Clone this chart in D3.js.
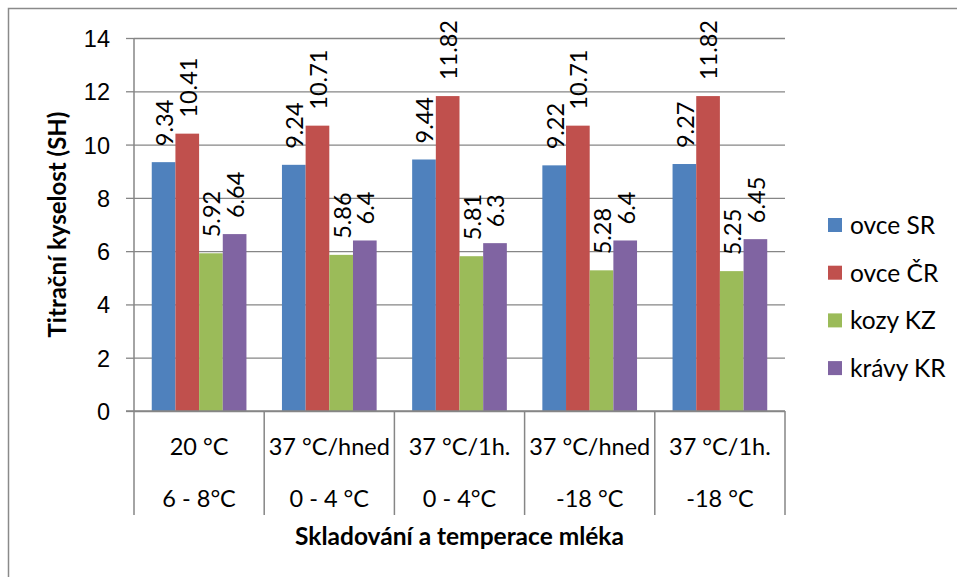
<!DOCTYPE html>
<html>
<head>
<meta charset="utf-8">
<script src="https://cdn.jsdelivr.net/npm/d3@7"></script>
<style>
  html, body { margin: 0; padding: 0; background: #fff; }
  svg { display: block; font-family: Lato, "Open Sans", sans-serif; }
</style>
</head>
<body>
<svg id="chart" width="957" height="577"></svg>
<script>
// Storage conditions (two-level category axis)
const categoriesTop = ["20 °C", "37 °C/hned", "37 °C/1h.", "37 °C/hned", "37 °C/1h."];
const categoriesBottom = ["6 - 8°C", "0 - 4 °C", "0 - 4°C", "-18 °C", "-18 °C"];

// Series
const seriesNames = ["ovce SR", "ovce ČR", "kozy KZ", "krávy KR"];
const ovceSR = [9.34, 9.24, 9.44, 9.22, 9.27];
const ovceCR = [10.41, 10.71, 11.82, 10.71, 11.82];
const kozyKZ = [5.92, 5.86, 5.81, 5.28, 5.25];
const kravyKR = [6.64, 6.4, 6.3, 6.4, 6.45];
const seriesColors = ["#4F81BD", "#C0504D", "#9BBB59", "#8064A2"];

const yTicks = [0, 2, 4, 6, 8, 10, 12, 14];
const yTitle = "Titrační kyselost (SH)";
const xTitle = "Skladování a temperace mléka";

const seriesValues = [ovceSR, ovceCR, kozyKZ, kravyKR];
const groups = categoriesTop.map((c, i) => ({
  index: i,
  top: c,
  bottom: categoriesBottom[i],
  values: seriesNames.map((s, j) => ({ series: s, j, value: seriesValues[j][i] }))
}));

const svg = d3.select("#chart");
const gridColor = "#868686";

const plot = { left: 134, right: 785, top: 38, bottom: 411 };
const axisBottom = 515;

// Outer chart frame
svg.append("rect")
  .attr("x", 8.5).attr("y", 8.5)
  .attr("width", 1000).attr("height", 1000)
  .attr("fill", "none")
  .attr("stroke", "#8a8a8a")
  .attr("stroke-width", 1.5);

const y = d3.scaleLinear().domain([0, 14]).range([plot.bottom, plot.top]);
const x0 = d3.scaleBand().domain(d3.range(categoriesTop.length))
  .range([plot.left, plot.right]).paddingInner(0).paddingOuter(0);
const bw = x0.bandwidth();
const x1 = d3.scaleBand().domain(d3.range(seriesNames.length))
  .range([0, bw]).paddingInner(0).paddingOuter(0.75);

// Horizontal gridlines with small outside ticks
const yAxis = d3.axisLeft(y).tickValues(yTicks)
  .tickSize(-(plot.right - plot.left)).tickSizeOuter(0).tickFormat("");
const gy = svg.append("g").attr("transform", `translate(${plot.left},0)`).call(yAxis);
gy.select(".domain").remove();
gy.selectAll(".tick line").attr("stroke", gridColor).attr("stroke-width", 1.3);
gy.selectAll(".tick").append("line")
  .attr("x1", -8).attr("x2", 0)
  .attr("stroke", gridColor).attr("stroke-width", 1.3);
gy.selectAll(".tick").append("text")
  .attr("x", -24).attr("dy", "0.36em")
  .attr("text-anchor", "end")
  .attr("fill", "#000")
  .attr("font-size", 23.5)
  .text(d => d);

// Bars
const gGroups = svg.append("g").selectAll("g").data(groups).join("g")
  .attr("transform", d => `translate(${x0(d.index)},0)`);

gGroups.selectAll("rect").data(d => d.values).join("rect")
  .attr("x", d => x1(d.j))
  .attr("y", d => y(d.value))
  .attr("width", x1.bandwidth())
  .attr("height", d => y(0) - y(d.value))
  .attr("fill", d => seriesColors[d.j]);

// Value labels, rotated above each bar
gGroups.selectAll("text").data(d => d.values).join("text")
  .attr("transform", d => `translate(${x1(d.j) + x1.bandwidth() / 2},${y(d.value) - 16}) rotate(-90)`)
  .attr("dy", "0.4em")
  .attr("text-anchor", "start")
  .attr("font-size", 23.5)
  .attr("fill", "#000")
  .text(d => String(d.value));

// Axis lines
svg.append("line")
  .attr("x1", plot.left - 8).attr("x2", plot.right)
  .attr("y1", plot.bottom).attr("y2", plot.bottom)
  .attr("stroke", gridColor).attr("stroke-width", 1.5);

const boundaries = d3.range(categoriesTop.length + 1).map(i =>
  i < categoriesTop.length ? x0(i) : plot.right);
svg.append("line")
  .attr("x1", plot.left).attr("x2", plot.left)
  .attr("y1", plot.top).attr("y2", plot.bottom)
  .attr("stroke", gridColor).attr("stroke-width", 1.5);
svg.append("g").selectAll("line").data(boundaries).join("line")
  .attr("x1", d => d).attr("x2", d => d)
  .attr("y1", plot.bottom).attr("y2", axisBottom)
  .attr("stroke", gridColor).attr("stroke-width", 1.5);

// Two-level category labels
const gCat = svg.append("g").attr("font-size", 23.5).attr("fill", "#000").attr("text-anchor", "middle");
gCat.selectAll("text.top").data(groups).join("text").attr("class", "top")
  .attr("x", d => x0(d.index) + bw / 2).attr("y", 455)
  .text(d => d.top);
gCat.selectAll("text.bottom").data(groups).join("text").attr("class", "bottom")
  .attr("x", d => x0(d.index) + bw / 2).attr("y", 507)
  .text(d => d.bottom);

// Axis titles
svg.append("text")
  .attr("x", (plot.left + plot.right) / 2).attr("y", 545)
  .attr("text-anchor", "middle")
  .attr("font-size", 24.5).attr("font-weight", "bold")
  .text(xTitle);
svg.append("text")
  .attr("transform", `translate(66,${(plot.top + plot.bottom) / 2}) rotate(-90)`)
  .attr("text-anchor", "middle")
  .attr("font-size", 24).attr("font-weight", "bold")
  .text(yTitle);

// Legend
const legend = svg.append("g").selectAll("g").data(seriesNames).join("g")
  .attr("transform", (d, i) => `translate(828,${225 + i * 47.7})`);
legend.append("rect")
  .attr("x", 0).attr("y", -7).attr("width", 14).attr("height", 14)
  .attr("fill", (d, i) => seriesColors[i]);
legend.append("text")
  .attr("x", 22).attr("dy", "0.36em")
  .attr("font-size", 24.5).attr("fill", "#000")
  .text(d => d);
</script>
</body>
</html>
